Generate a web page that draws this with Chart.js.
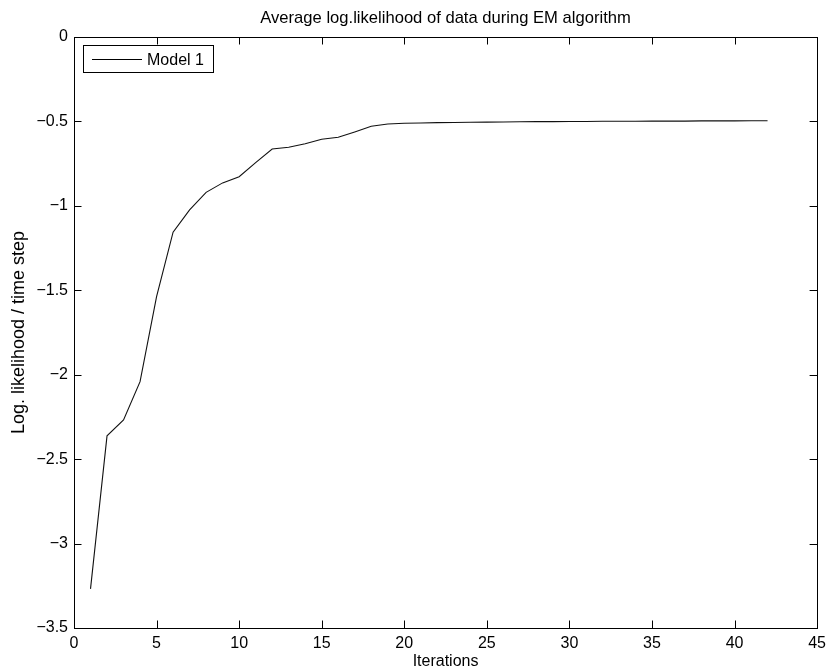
<!DOCTYPE html>
<html>
<head>
<meta charset="utf-8">
<title>EM log likelihood</title>
<script src="https://cdn.jsdelivr.net/npm/chart.js@4.4.0/dist/chart.umd.min.js"></script>
<style>
  body { margin: 0; background: #fff; }
  canvas { display: block; }
</style>
</head>
<body>
<canvas id="myChart" width="832" height="671"></canvas>
<script>
// iterations of the EM run and the average log likelihood per time step
var iterations = [1,2,3,4,5,6,7,8,9,10,11,12,13,14,15,16,17,18,19,20,21,
                  22,23,24,25,26,27,28,29,30,31,32,33,34,35,36,37,38,39,40,41,42];
var logLik = [-3.268,-2.362,-2.268,-2.041,-1.538,-1.156,-1.024,-0.920,-0.864,-0.827,
              -0.744,-0.663,-0.653,-0.632,-0.606,-0.594,-0.562,-0.529,-0.515,-0.511,
              -0.509,-0.507,-0.506,-0.505,-0.504,-0.503,-0.502,-0.501,-0.501,-0.500,
              -0.500,-0.499,-0.499,-0.499,-0.498,-0.498,-0.498,-0.497,-0.497,-0.497,
              -0.496,-0.496];
var xTicks = [0,5,10,15,20,25,30,35,40,45];
var yTicks = [0,-0.5,-1,-1.5,-2,-2.5,-3,-3.5];
var seriesName = 'Model 1';
var chartTitle = 'Average log.likelihood of data during EM algorithm';

var FONT = 'Helvetica, "Liberation Sans", Arial, sans-serif';

var points = iterations.map(function (it, k) { return { x: it, y: logLik[k] }; });

function fmt(v) {
    if (Math.abs(v) < 1e-9) return '0';
    return String(+v.toFixed(1)).replace('-', '\u2212');
}

// matlab-like box: frame, inward ticks on all four sides, title over the axes,
// legend box in the corner
var boxPlugin = {
    id: 'boxPlugin',
    afterDraw: function (chart) {
        var ctx = chart.ctx;
        var a = chart.chartArea;
        var sx = chart.scales.x, sy = chart.scales.y;
        var tl = 7.5;
        ctx.save();
        ctx.strokeStyle = '#000';
        ctx.lineWidth = 1;
        ctx.beginPath();
        xTicks.forEach(function (t) {
            var px = Math.round(sx.getPixelForValue(t)) + 0.5;
            ctx.moveTo(px, a.bottom); ctx.lineTo(px, a.bottom - tl);
            ctx.moveTo(px, a.top); ctx.lineTo(px, a.top + tl);
        });
        yTicks.forEach(function (t) {
            var py = Math.round(sy.getPixelForValue(t)) + 0.5;
            ctx.moveTo(a.left, py); ctx.lineTo(a.left + tl, py);
            ctx.moveTo(a.right, py); ctx.lineTo(a.right - tl, py);
        });
        ctx.stroke();
        ctx.strokeRect(Math.round(a.left) + 0.5, Math.round(a.top) + 0.5,
                       Math.round(a.right - a.left), Math.round(a.bottom - a.top));

        // title, centred on the axes
        ctx.fillStyle = '#000';
        ctx.font = '16.6px ' + FONT;
        ctx.textAlign = 'center';
        ctx.textBaseline = 'middle';
        ctx.fillText(chartTitle, (a.left + a.right) / 2, 18);

        // legend
        var lx = a.left + 9, ly = a.top + 8, lw = 130, lh = 27;
        ctx.fillStyle = '#fff';
        ctx.fillRect(lx, ly, lw, lh);
        ctx.strokeRect(Math.round(lx) + 0.5, Math.round(ly) + 0.5, lw, lh);
        var my = Math.round(ly + lh / 2) + 0.5;
        ctx.beginPath();
        ctx.moveTo(lx + 9, my); ctx.lineTo(lx + 59, my);
        ctx.stroke();
        ctx.fillStyle = '#000';
        ctx.font = '16px ' + FONT;
        ctx.textBaseline = 'middle';
        ctx.textAlign = 'left';
        ctx.fillText(chart.data.datasets[0].label, lx + 64, my + 1);
        ctx.restore();
    }
};

var ctx = document.getElementById('myChart').getContext('2d');
var myChart = new Chart(ctx, {
    type: 'line',
    data: {
        datasets: [{
            label: seriesName,
            data: points,
            borderColor: '#111',
            borderWidth: 1.1,
            pointRadius: 0,
            tension: 0,
            fill: false
        }]
    },
    options: {
        responsive: false,
        animation: false,
        layout: { padding: { left: 0, right: 9, top: 37, bottom: 0 } },
        plugins: {
            legend: { display: false },
            tooltip: { enabled: false },
            title: { display: false }
        },
        scales: {
            x: {
                type: 'linear',
                min: 0,
                max: 45,
                afterFit: function (s) { s.height = 43; },
                afterBuildTicks: function (s) { s.ticks = xTicks.map(function (v) { return { value: v }; }); },
                grid: { display: false, drawTicks: false },
                border: { display: false },
                ticks: {
                    color: '#000',
                    padding: 6,
                    maxRotation: 0,
                    font: { family: FONT, size: 16 },
                    callback: function (v) { return fmt(v); }
                },
                title: {
                    display: true,
                    text: 'Iterations',
                    color: '#000',
                    font: { family: FONT, size: 16 },
                    padding: { top: 0, bottom: 0 }
                }
            },
            y: {
                min: -3.5,
                max: 0,
                afterFit: function (s) { s.width = 74; },
                afterBuildTicks: function (s) { s.ticks = yTicks.map(function (v) { return { value: v }; }); },
                grid: { display: false, drawTicks: false },
                border: { display: false },
                ticks: {
                    color: '#000',
                    padding: 6,
                    font: { family: FONT, size: 16 },
                    callback: function (v) { return fmt(v); }
                },
                title: {
                    display: true,
                    text: 'Log. likelihood / time step',
                    color: '#000',
                    font: { family: FONT, size: 18 },
                    padding: { top: 8, bottom: 0 }
                }
            }
        }
    },
    plugins: [boxPlugin]
});
</script>
</body>
</html>
